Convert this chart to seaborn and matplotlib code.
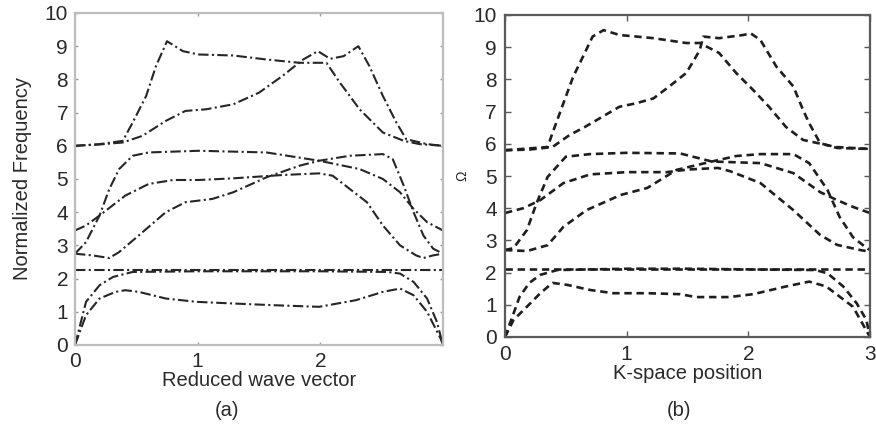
import matplotlib
matplotlib.use("Agg")
import matplotlib.pyplot as plt
import numpy as np
import pandas as pd
import seaborn as sns

# ---------------- panel (a): normalized frequency vs reduced wave vector ----------------
a1_k = [0.0, 0.09, 0.2, 0.33, 0.41, 0.52, 0.74, 0.99, 1.29, 1.61, 1.99, 2.29, 2.51, 2.65, 2.76, 2.87, 2.98, 3.0]
a1_w = [0.0, 0.9, 1.4, 1.6, 1.65, 1.6, 1.4, 1.3, 1.25, 1.2, 1.15, 1.35, 1.6, 1.7, 1.5, 1.0, 0.2, 0.0]

a2_k = [0.0, 0.09, 0.2, 0.31, 0.47, 1.0, 1.5, 2.0, 2.55, 2.65, 2.76, 2.87, 2.95, 3.0]
a2_w = [0.0, 1.3, 1.8, 2.05, 2.2, 2.22, 2.22, 2.22, 2.2, 2.15, 1.9, 1.4, 0.7, 0.0]

a3_k = [0.0, 3.0]
a3_w = [2.25, 2.25]

a4_k = [0.0, 0.14, 0.28, 0.36, 0.52, 0.74, 0.9, 1.12, 1.29, 1.56, 1.83, 1.99, 2.24, 2.51, 2.59, 2.68, 2.76, 2.84, 2.92, 3.0]
a4_w = [2.75, 2.7, 2.62, 2.8, 3.3, 4.0, 4.3, 4.4, 4.6, 5.05, 5.4, 5.55, 5.7, 5.75, 5.6, 4.8, 4.0, 3.3, 2.9, 2.75]

a5_k = [0.0, 0.09, 0.2, 0.28, 0.36, 0.47, 0.6, 1.01, 1.56, 1.99, 2.32, 2.51, 2.65, 2.76, 2.87, 3.0]
a5_w = [2.75, 3.1, 3.9, 4.7, 5.3, 5.7, 5.8, 5.85, 5.8, 5.55, 5.3, 5.0, 4.6, 4.1, 3.7, 3.45]

a6_k = [0.0, 0.09, 0.2, 0.41, 0.6, 0.8, 1.01, 1.29, 1.69, 1.99, 2.1, 2.24, 2.38, 2.51, 2.65, 2.78, 2.84, 2.92, 3.0]
a6_w = [3.45, 3.6, 3.9, 4.5, 4.85, 4.97, 4.97, 5.02, 5.12, 5.17, 5.1, 4.7, 4.3, 3.6, 3.0, 2.7, 2.62, 2.7, 2.75]

a7_k = [0.0, 0.2, 0.39, 0.47, 0.58, 0.66, 0.75, 0.88, 1.01, 1.29, 1.56, 1.83, 2.05, 2.16, 2.32, 2.51, 2.68, 2.81, 3.0]
a7_w = [6.0, 6.05, 6.15, 6.7, 7.5, 8.4, 9.15, 8.85, 8.75, 8.72, 8.6, 8.5, 8.5, 7.9, 7.1, 6.4, 6.15, 6.05, 6.0]

a8_k = [0.0, 0.2, 0.39, 0.55, 0.74, 0.9, 1.07, 1.29, 1.5, 1.69, 1.86, 1.98, 2.08, 2.19, 2.31, 2.4, 2.51, 2.62, 2.7, 2.87, 3.0]
a8_w = [6.0, 6.04, 6.1, 6.3, 6.75, 7.05, 7.1, 7.25, 7.6, 8.1, 8.6, 8.85, 8.62, 8.7, 9.0, 8.4, 7.5, 6.7, 6.2, 6.05, 6.0]

# ---------------- panel (b): Omega vs K-space position ----------------
b1_k = [0.0, 0.07, 0.18, 0.29, 0.39, 0.51, 0.7, 0.89, 1.17, 1.44, 1.57, 1.84, 2.04, 2.31, 2.5, 2.64, 2.86, 3.0]
b1_w = [0.0, 0.53, 0.94, 1.36, 1.68, 1.62, 1.46, 1.36, 1.36, 1.33, 1.24, 1.24, 1.33, 1.57, 1.72, 1.57, 0.94, 0.0]

b2_k = [0.0, 0.12, 0.2, 0.29, 0.43, 1.0, 1.5, 2.0, 2.55, 2.65, 2.78, 2.89, 2.97, 3.0]
b2_w = [0.0, 1.25, 1.68, 1.93, 2.08, 2.12, 2.12, 2.1, 2.08, 1.98, 1.57, 1.05, 0.53, 0.0]

b3_k = [0.0, 3.0]
b3_w = [2.1, 2.1]

b4_k = [0.0, 0.18, 0.35, 0.48, 0.67, 0.95, 1.17, 1.41, 1.7, 1.9, 2.1, 2.37, 2.5, 2.65, 2.75, 2.86, 2.97, 3.0]
b4_w = [2.7, 2.67, 2.85, 3.42, 3.94, 4.41, 4.63, 5.19, 5.45, 5.62, 5.68, 5.68, 5.4, 4.57, 3.73, 3.1, 2.77, 2.7]

b5_k = [0.0, 0.07, 0.18, 0.26, 0.35, 0.5, 0.7, 1.0, 1.44, 1.7, 2.1, 2.37, 2.59, 2.73, 2.86, 3.0]
b5_w = [2.7, 2.76, 3.32, 4.16, 4.97, 5.6, 5.68, 5.72, 5.7, 5.45, 5.4, 5.09, 4.5, 4.25, 4.04, 3.85]

b6_k = [0.0, 0.15, 0.29, 0.48, 0.7, 1.0, 1.33, 1.5, 1.75, 1.85, 2.1, 2.37, 2.59, 2.73, 2.92, 3.0]
b6_w = [3.85, 4.0, 4.25, 4.78, 5.05, 5.12, 5.12, 5.2, 5.25, 5.15, 4.78, 3.94, 3.17, 2.86, 2.7, 2.65]

b7_k = [0.0, 0.35, 0.39, 0.48, 0.56, 0.64, 0.72, 0.81, 0.94, 1.22, 1.49, 1.6, 1.76, 1.9, 2.04, 2.17, 2.31, 2.45, 2.72, 3.0]
b7_w = [5.8, 5.9, 6.33, 7.26, 8.08, 8.7, 9.33, 9.53, 9.38, 9.28, 9.13, 9.13, 8.82, 8.2, 7.67, 7.15, 6.52, 6.12, 5.9, 5.84]

b8_k = [0.0, 0.2, 0.39, 0.53, 0.66, 0.8, 0.94, 1.08, 1.22, 1.35, 1.49, 1.6, 1.63, 1.76, 1.96, 2.02, 2.1, 2.23, 2.37, 2.45, 2.5, 2.59, 2.73, 3.0]
b8_w = [5.8, 5.82, 5.9, 6.27, 6.53, 6.84, 7.15, 7.26, 7.41, 7.78, 8.2, 8.9, 9.33, 9.28, 9.38, 9.43, 9.22, 8.4, 7.78, 7.05, 6.64, 6.02, 5.87, 5.84]

bands_a = [(a1_k, a1_w), (a2_k, a2_w), (a3_k, a3_w), (a4_k, a4_w),
           (a5_k, a5_w), (a6_k, a6_w), (a7_k, a7_w), (a8_k, a8_w)]
bands_b = [(b1_k, b1_w), (b2_k, b2_w), (b3_k, b3_w), (b4_k, b4_w),
           (b5_k, b5_w), (b6_k, b6_w), (b7_k, b7_w), (b8_k, b8_w)]


def to_frame(bands):
    rows = []
    for i, (k, w) in enumerate(bands):
        for order, (kk, ww) in enumerate(zip(k, w)):
            rows.append({"band": i, "order": order, "k": kk, "w": ww})
    return pd.DataFrame(rows)


df_a = to_frame(bands_a)
df_b = to_frame(bands_b)

sns.set_theme(style="white")
plt.rcParams["font.family"] = ["Liberation Sans", "DejaVu Sans"]

fig = plt.figure(figsize=(8.76, 4.28), dpi=100)
ax_a = fig.add_axes([75 / 876, 1 - 345 / 428, (443 - 75) / 876, (345 - 13) / 428])
ax_b = fig.add_axes([505 / 876, 1 - 337 / 428, (870 - 505) / 876, (337 - 15) / 428])

text_col = "#2a2a2a"

# panel (a): dash-dot bands
for band, grp in df_a.groupby("band"):
    sns.lineplot(data=grp, x="k", y="w", sort=False, estimator=None, ax=ax_a,
                 color="#262626", linewidth=1.5, legend=False)
for ln in ax_a.get_lines():
    ln.set_dashes((5, 1.6, 1, 1.6))

# panel (b): dashed bands
for band, grp in df_b.groupby("band"):
    sns.lineplot(data=grp, x="k", y="w", sort=False, estimator=None, ax=ax_b,
                 color="#1e1e1e", linewidth=1.9, legend=False)
for ln in ax_b.get_lines():
    ln.set_dashes((2.8, 1.8))

for ax in (ax_a, ax_b):
    ax.set_xlim(0, 3)
    ax.set_ylim(0, 10)
    ax.set_yticks(range(0, 11))

ax_a.set_xticks([0, 1, 2])
ax_b.set_xticks([0, 1, 2, 3])

# frames
for sp in ax_a.spines.values():
    sp.set_visible(True)
    sp.set_color("#bdbdbd")
    sp.set_linewidth(1.6)
for sp in ax_b.spines.values():
    sp.set_visible(True)
    sp.set_color("#5a5a5a")
    sp.set_linewidth(1.6)

ax_a.tick_params(direction="in", length=2, width=1, color="#9a9a9a",
                 labelsize=15, labelcolor=text_col, pad=5,
                 top=True, right=True, bottom=True, left=True)
ax_b.tick_params(direction="in", length=4, width=1, color="#5a5a5a",
                 labelsize=15, labelcolor=text_col, pad=6,
                 top=True, right=True, bottom=True, left=True)

ax_a.set_xlabel("Reduced wave vector", fontsize=14.5, color=text_col, labelpad=0)
ax_a.set_ylabel("Normalized Frequency", fontsize=14.5, color=text_col, labelpad=9)
ax_b.set_xlabel("K-space position", fontsize=14.5, color=text_col, labelpad=0)
ax_b.set_ylabel("Ω", fontsize=10, color=text_col, labelpad=3)

fig.text(227 / 876, 1 - 410 / 428, "(a)", ha="center", va="center", fontsize=14.5, color=text_col)
fig.text(679 / 876, 1 - 410 / 428, "(b)", ha="center", va="center", fontsize=14.5, color=text_col)

fig.savefig("out.png", dpi=100)
